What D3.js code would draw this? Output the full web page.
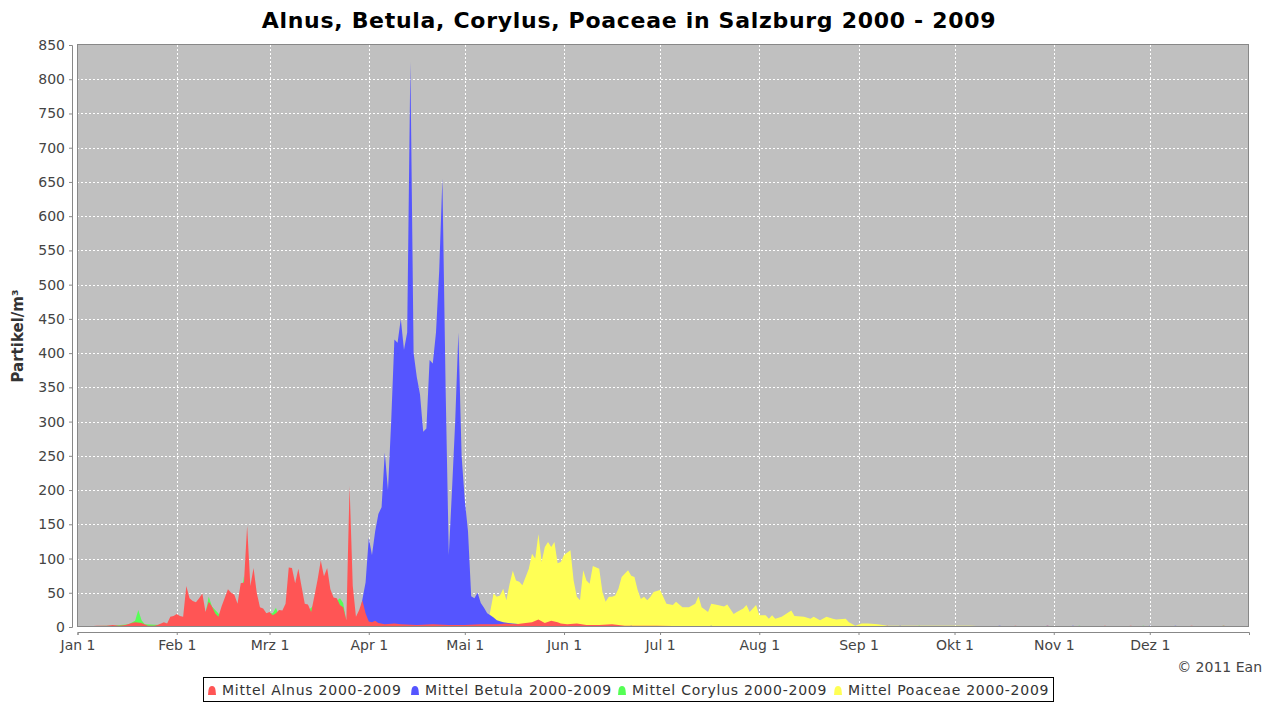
<!DOCTYPE html>
<meta charset="utf-8">
<style>
body { margin: 0; background: #fff; font-family: "DejaVu Sans", sans-serif; }
.tick text { fill: #444; }
.grid line { stroke: #fff; stroke-dasharray: 2,2; shape-rendering: crispEdges; }
</style>
<body>
<script src="https://cdnjs.cloudflare.com/ajax/libs/d3/7.8.5/d3.min.js"></script>
<script>
// day of year (0 = Jan 1, leap year) and mean particles/m3
var monthDays = [0, 31, 60, 91, 121, 152, 182, 213, 244, 274, 305, 335];
var monthLabels = ["Jan 1", "Feb 1", "Mrz 1", "Apr 1", "Mai 1", "Jun 1", "Jul 1", "Aug 1", "Sep 1", "Okt 1", "Nov 1", "Dez 1"];
var yTicks = d3.range(0, 851, 50);

var alnus = [[0,1],[4,1],[6,2],[9,2],[11,3],[13,2],[15,3],[17,6],[18,7],[20,6],[22,2],[24,2],[25,3],[27,7],
  [28,5],[29,15],[30,16],[31,19],[32,16],[33,15],[34,60],[35,42],[36,38],[37,36],[38,42],[39,49],[40,22],
  [41,37],[42,30],[43,20],[44,15],[45,30],[47,55],[48,50],[49,47],[50,34],[51,64],[52,65],[53,148],[54,60],
  [55,86],[56,50],[57,29],[58,27],[59,20],[60,22],[61,17],[62,20],[63,25],[64,24],[65,34],[66,87],[67,86],
  [68,64],[69,85],[70,59],[71,34],[72,33],[73,22],[74,45],[75,69],[76,97],[77,74],[78,86],[79,55],[80,43],
  [81,42],[82,32],[83,29],[84,10],[85,206],[86,60],[87,15],[88,25],[89,39],[90,20],[91,8],[92,7],[93,9],
  [94,6],[96,4],[99,5],[101,4],[106,3],[111,4],[116,3],[121,3],[126,4],[131,4],[134,5],[137,4],[140,6],
  [142,7],[144,11],[146,6],[148,9],[150,7],[151,5],[153,4],[156,5],[159,3],[163,3],[167,4],[171,2],[181,2],
  [191,1],[201,1],[216,1],[231,0],[251,0],[253,2],[255,0],[291,0],[293,2],[295,0],[301,0],[303,2],[306,0],
  [319,0],[321,2],[323,0],[327,0],[329,2],[332,0],[346,0],[348,2],[351,0],[356,0],[358,2],[361,0],[366,0]];

var betula = [[0,0],[87,0],[88,15],[89,40],[90,65],[91,130],[92,105],[93,140],[94,165],[95,175],[96,255],
  [97,200],[98,300],[99,420],[100,415],[101,450],[102,405],[103,430],[104,825],[105,400],[106,365],[107,340],
  [108,285],[109,290],[110,390],[111,385],[112,430],[113,520],[114,655],[115,350],[116,105],[117,200],
  [118,300],[119,430],[120,250],[121,185],[122,140],[123,45],[124,42],[125,50],[126,35],[127,28],[128,20],
  [129,17],[130,14],[131,10],[133,7],[136,5],[141,3],[146,1],[151,0],[171,0],[173,2],[175,0],[196,0],[198,2],
  [200,0],[255,0],[257,2],[259,0],[286,0],[288,2],[291,0],[301,0],[303,2],[305,0],[309,0],[311,2],[313,0],
  [333,0],[335,2],[337,0],[341,0],[343,2],[345,0],[366,0]];

var corylus = [[0,1],[11,2],[16,4],[18,9],[19,25],[20,10],[21,4],[26,3],[31,8],[36,15],[40,20],[41,44],
  [42,30],[46,10],[51,40],[52,74],[53,30],[56,20],[61,20],[62,28],[63,15],[71,20],[76,40],[79,30],[81,38],
  [82,42],[83,35],[84,8],[87,10],[91,3],[101,2],[121,1],[151,0],[261,0],[263,2],[265,0],[311,0],[313,2],
  [315,0],[331,0],[333,2],[335,0],[356,0],[358,2],[360,0],[366,0]];

var poaceae = [[0,0],[128,0],[129,24],[130,49],[131,44],[132,46],[133,56],[134,39],[135,63],[136,82],
  [137,68],[138,66],[139,61],[141,85],[142,107],[143,100],[144,136],[145,95],[146,117],[147,124],[148,117],
  [149,124],[150,93],[151,95],[152,105],[154,112],[155,68],[156,44],[157,39],[158,83],[159,68],[160,63],
  [161,89],[163,85],[164,51],[165,37],[166,44],[167,44],[168,46],[169,56],[170,73],[172,83],[173,75],
  [174,73],[175,54],[176,41],[177,44],[178,39],[179,44],[180,51],[182,54],[183,44],[184,34],[186,32],
  [187,37],[189,29],[191,29],[193,34],[194,45],[195,29],[197,22],[198,34],[200,32],[202,30],[203,33],
  [205,19],[206,22],[208,27],[209,32],[210,22],[212,32],[213,17],[215,17],[216,12],[217,17],[218,12],
  [220,15],[223,24],[224,16],[227,15],[229,12],[230,15],[232,10],[234,15],[236,12],[237,11],[240,12],
  [241,7],[243,2],[245,5],[247,5],[250,4],[253,2],[257,2],[261,2],[266,2],[271,2],[279,2],[283,1],[291,0],[366,0]];

var series = [
  {name: "Mittel Alnus 2000-2009", color: "#ff5555", values: alnus},
  {name: "Mittel Betula 2000-2009", color: "#5555ff", values: betula},
  {name: "Mittel Corylus 2000-2009", color: "#55ff55", values: corylus},
  {name: "Mittel Poaceae 2000-2009", color: "#ffff55", values: poaceae}
];

var W = 1275, H = 702;
var plot = {left: 77, right: 1249, top: 45, bottom: 627};

var svg = d3.select("body").append("svg")
    .attr("width", W)
    .attr("height", H);

var x = d3.scaleLinear().domain([0, 366]).range([plot.left + 0.5, plot.right]);
var y = d3.scaleLinear().domain([0, 850]).range([plot.bottom, plot.top]);

// plot background
svg.append("rect")
    .attr("x", plot.left).attr("y", plot.top)
    .attr("width", plot.right - plot.left).attr("height", plot.bottom - plot.top)
    .attr("fill", "#c0c0c0");

// grid
var grid = svg.append("g").attr("class", "grid");
grid.selectAll(".hg").data(yTicks.slice(1, -1)).enter().append("line")
    .attr("x1", plot.left).attr("x2", plot.right)
    .attr("y1", function(d) { return Math.round(y(d)) + 0.5; })
    .attr("y2", function(d) { return Math.round(y(d)) + 0.5; });
grid.selectAll(".vg").data(monthDays.slice(1)).enter().append("line")
    .attr("y1", plot.top).attr("y2", plot.bottom)
    .attr("x1", function(d) { return Math.round(x(d)) + 0.5; })
    .attr("x2", function(d) { return Math.round(x(d)) + 0.5; });

// areas, last series at the back
var area = d3.area()
    .x(function(d) { return x(d[0]); })
    .y0(y(0))
    .y1(function(d) { return y(d[1]); });

svg.append("g").selectAll("path")
    .data(series.slice().reverse())
  .enter().append("path")
    .attr("d", function(s) { return area(s.values); })
    .attr("fill", function(s) { return s.color; });

// plot border
svg.append("rect")
    .attr("x", plot.left + 0.5).attr("y", plot.top - 0.5)
    .attr("width", plot.right - plot.left - 1).attr("height", plot.bottom - plot.top)
    .attr("fill", "none")
    .attr("stroke", "#888");

// axes
var yAxis = d3.axisLeft(y).tickValues(yTicks).tickSize(3).tickPadding(4);
var xAxis = d3.axisBottom(x).tickValues(monthDays).tickSize(3).tickPadding(5)
    .tickFormat(function(d, i) { return monthLabels[i]; });

var gy = svg.append("g")
    .attr("transform", "translate(" + (plot.left - 5) + ",0)")
    .call(yAxis);
var gx = svg.append("g")
    .attr("transform", "translate(0," + (plot.bottom + 5) + ")")
    .call(xAxis);
[gx, gy].forEach(function(g) {
  g.select(".domain").attr("stroke", "#888");
  g.selectAll(".tick line").attr("stroke", "#888");
  g.selectAll(".tick text").style("font-size", "14px").style("font-family", "DejaVu Sans");
});

// title
svg.append("text")
    .attr("x", 629)
    .attr("y", 28)
    .attr("text-anchor", "middle")
    .style("font-size", "22px")
    .style("font-weight", "bold")
    .style("letter-spacing", "0.7px")
    .text("Alnus, Betula, Corylus, Poaceae in Salzburg 2000 - 2009");

svg.append("text")
    .attr("transform", "translate(23," + ((plot.top + plot.bottom) / 2) + ") rotate(-90)")
    .attr("text-anchor", "middle")
    .style("font-size", "15px")
    .style("font-weight", "bold")
    .style("fill", "#333")
    .text("Partikel/m³");

svg.append("text")
    .attr("x", 1262)
    .attr("y", 672)
    .attr("text-anchor", "end")
    .style("font-size", "14px")
    .style("fill", "#444")
    .text("© 2011 Ean");

// legend
var legend = svg.append("g");
legend.append("rect")
    .attr("x", 203.5).attr("y", 677.5)
    .attr("width", 850).attr("height", 24)
    .attr("fill", "#fff")
    .attr("stroke", "#000");

var itemX = [212, 415, 622, 838];
var items = legend.selectAll(".item").data(series).enter().append("g")
    .attr("transform", function(d, i) { return "translate(" + itemX[i] + ",690)"; });
items.append("path")
    .attr("d", "M-4,5 L-3.5,0 Q-3,-4 0,-4 Q3,-4 3.5,0 L4,5 Z")
    .attr("fill", function(d) { return d.color; });
items.append("text")
    .attr("x", 10)
    .attr("y", 5)
    .style("font-size", "14px")
    .style("letter-spacing", "0.75px")
    .style("fill", "#333")
    .text(function(d) { return d.name; });
</script>
</body>
